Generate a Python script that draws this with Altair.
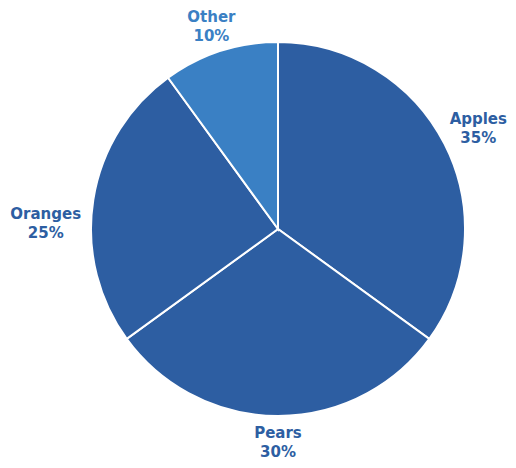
import altair as alt
import pandas as pd

fruits = ["Apples", "Pears", "Oranges", "Other"]
shares = [35, 30, 25, 10]
order = [1, 2, 3, 4]
slice_colors = ["#2D5EA2", "#2D5EA2", "#2D5EA2", "#3A80C4"]
label_colors = ["#2F62A8", "#2F62A8", "#2F62A8", "#3F86C8"]

df = pd.DataFrame({"fruit": fruits, "share": shares, "order": order})

cx, cy = 270, 221
# small label nudges (dx, dy) in pixels
nudges = {"Apples": (2.5, -9.5), "Pears": (0, -18.5), "Oranges": (-13, 19.5), "Other": (2, -0.5)}

theta_scale = alt.Scale(domain=[0, 100])

stacked = alt.Chart(df).transform_stack(
    stack="share", as_=["s0", "s1"], groupby=[], sort=[alt.SortField("order", order="ascending")]
).transform_calculate(
    mid="(datum.s0 + datum.s1) / 2",
    label="datum.fruit + '\\n' + datum.share + '%'",
)

pie = stacked.mark_arc(outerRadius=187, stroke="white", strokeWidth=2).encode(
    theta=alt.Theta("s0:Q", scale=theta_scale),
    theta2="s1:Q",
    x=alt.value(cx),
    y=alt.value(cy),
    color=alt.Color("fruit:N", scale=alt.Scale(domain=fruits, range=slice_colors), legend=None),
)

layers = [pie]
for f in fruits:
    dx, dy = nudges[f]
    lab = stacked.transform_filter(
        alt.datum.fruit == f
    ).mark_text(
        radius=222, font="DejaVu Sans", fontWeight="bold", fontSize=15,
        lineBreak="\n", lineHeight=19, align="center", baseline="middle",
        dx=dx, dy=dy,
    ).encode(
        theta=alt.Theta("mid:Q", scale=theta_scale),
        x=alt.value(cx),
        y=alt.value(cy),
        text="label:N",
        color=alt.Color("fruit:N", scale=alt.Scale(domain=fruits, range=label_colors), legend=None),
    )
    layers.append(lab)

chart = alt.layer(*layers).properties(
    width=500, height=452,
    autosize=alt.AutoSizeParams(type="none"),
    padding=0,
).configure(background="white").configure_view(stroke=None, strokeWidth=0)

chart.save("out.html", embed_options={"renderer": "svg", "actions": False})
